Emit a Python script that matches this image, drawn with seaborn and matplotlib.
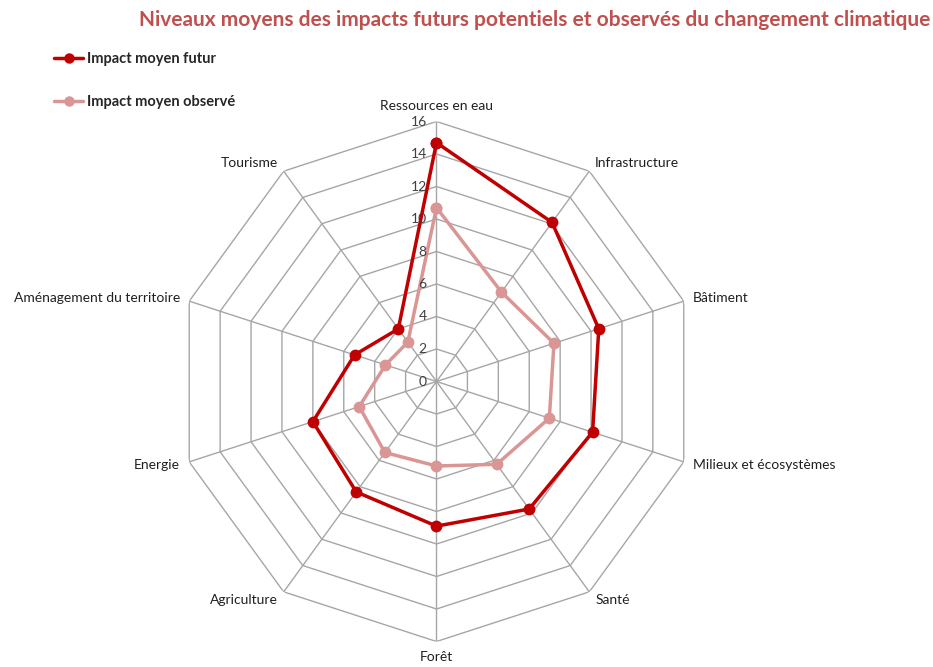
import numpy as np
import pandas as pd
import matplotlib
matplotlib.use("Agg")
import matplotlib.pyplot as plt
from matplotlib.lines import Line2D
import matplotlib.transforms as mtransforms
import seaborn as sns

categories = ["Ressources en eau", "Infrastructure", "Bâtiment", "Milieux et écosystèmes",
              "Santé", "Forêt", "Agriculture", "Energie", "Aménagement du territoire", "Tourisme"]
future = [14.7, 12.1, 10.5, 10.1, 9.7, 8.9, 8.4, 8.0, 5.3, 4.0]
observed = [10.7, 6.8, 7.6, 7.3, 6.3, 5.2, 5.4, 5.0, 3.3, 3.0]
series_names = ["Impact moyen futur", "Impact moyen observé"]
r_ticks = [0, 2, 4, 6, 8, 10, 12, 14, 16]

title = "Niveaux moyens des impacts futurs potentiels et observés du changement climatique"
colors = {"Impact moyen futur": "#c00000", "Impact moyen observé": "#d99694"}
grid_color = "#a6a6a6"

sns.set_theme(style="white")
plt.rcParams["font.family"] = ["Lato", "DejaVu Sans"]

n = len(categories)
angles = np.linspace(0, 2 * np.pi, n, endpoint=False)
closed = np.append(angles, 2 * np.pi)

rows = []
for name, vals in zip(series_names, [future, observed]):
    for i, th in enumerate(closed):
        rows.append({"theta": th, "value": vals[i % n], "series": name, "order": i})
df = pd.DataFrame(rows)

fig = plt.figure(figsize=(9.33, 6.67), dpi=100)
W, H = 933, 667
cx, cy, R = 436.5, 381.5, 260
ax = fig.add_axes([(cx - R) / W, (H - cy - R) / H, 2 * R / W, 2 * R / H], projection="polar")
ax.set_theta_zero_location("N")
ax.set_theta_direction(-1)
ax.set_ylim(0, 16)
ax.grid(False)
ax.spines["polar"].set_visible(False)
ax.set_xticks([])
ax.set_yticks([])
ax.patch.set_alpha(0)

# polygon grid
for lv in r_ticks[1:]:
    ax.plot(closed, [lv] * len(closed), color=grid_color, lw=1.0, zorder=1)
for th in angles:
    ax.plot([th, th], [0, r_ticks[-1]], color=grid_color, lw=1.0, zorder=1)

# data
for name in series_names[::-1]:
    sub = df[df["series"] == name]
    sns.lineplot(data=sub, x="theta", y="value", sort=False, estimator=None, ax=ax,
                 color=colors[name], linewidth=2.5, marker="o", markersize=8.5,
                 markeredgewidth=0, legend=False, zorder=3)
ax.set_xlabel("")
ax.set_ylabel("")
ax.set_ylim(0, 16)

# radial tick labels
off = mtransforms.offset_copy(ax.transData, fig=fig, x=-7, y=0, units="points")
for t in r_ticks:
    ax.text(0, t, str(t), transform=off, ha="right", va="center", fontsize=10, color="#404040")

# category labels
for th, lab in zip(angles, categories):
    s = np.sin(th)
    if abs(s) < 1e-6:
        ha = "center"
    elif s > 0:
        ha = "left"
    else:
        ha = "right"
    c = np.cos(th)
    if abs(s) < 1e-6:
        va = "bottom" if c > 0 else "top"
    else:
        va = "center"
    ax.text(th, 16.6, lab, ha=ha, va=va, fontsize=10, color="#202020")

# title
fig.text(930 / W, 1 - 20 / H, title, ha="right", va="center", fontsize=15,
         fontweight="bold", color="#c0504d")

# legend
handles = [Line2D([0], [0], color=colors[nm], lw=2.5, marker="o", markersize=7.5,
                  markeredgewidth=0) for nm in series_names]
leg = fig.legend(handles, series_names, loc="upper left", bbox_to_anchor=(41 / W, 1 - 39 / H),
                 frameon=False, handlelength=2.0, handletextpad=0.25, labelspacing=2.0,
                 prop={"weight": "bold", "size": 10.5})

fig.savefig("out.png", dpi=100, facecolor="white")
